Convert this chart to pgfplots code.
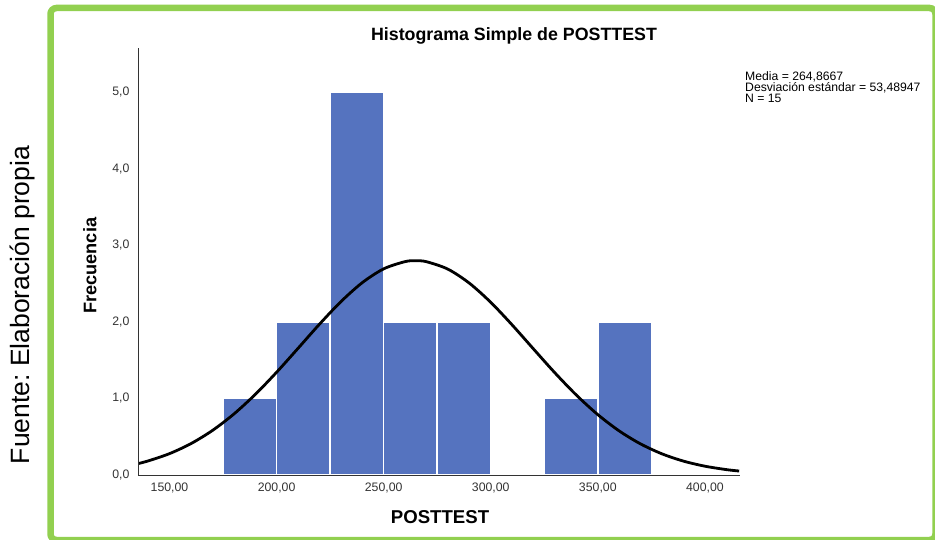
\documentclass[border=0pt]{standalone}
\usepackage{pgfplots}
\pgfplotsset{compat=1.18}
\usepackage{fontspec}
\setmainfont{Liberation Sans}
\definecolor{barblue}{HTML}{5573BF}
\definecolor{framegreen}{HTML}{92D050}
\definecolor{tickgray}{HTML}{333333}
\begin{document}
\frenchspacing
\begin{tikzpicture}[x=1pt,y=1pt]
\useasboundingbox (0,0) rectangle (935,539);
\draw[framegreen, line width=6.5pt, rounded corners=6pt] (50.5,-1) rectangle (935.5,531);
\node[rotate=90, font=\fontsize{26.5}{30}\selectfont, anchor=center] at (22,234) {Fuente: Elaboración propia};
\node[font=\bfseries\fontsize{17.8}{20}\selectfont] at (514,503) {Histograma Simple de POSTTEST};
\node[font=\fontsize{12.2}{11}\selectfont, anchor=north west, align=left, inner sep=0pt] at (745,468) {Media = 264,8667\\Desviación estándar = 53,48947\\N = 15};
\begin{axis}[
  at={(138pt,64pt)}, anchor=south west,
  scale only axis, width=602pt, height=427pt,
  xmin=135.3, xmax=416.4, ymin=0, ymax=5.574,
  axis lines=left,
  axis line style={-, draw=tickgray, line width=0.8pt},
  axis on top=true,
  major tick length=0pt,
  xtick={150,200,250,300,350,400},
  xticklabels={{150,00},{200,00},{250,00},{300,00},{350,00},{400,00}},
  ytick={0,1,2,3,4,5},
  yticklabels={{0,0},{1,0},{2,0},{3,0},{4,0},{5,0}},
  tick label style={font=\fontsize{12.3}{14}\selectfont, text=tickgray},
  xticklabel style={yshift=-4pt},
  yticklabel style={xshift=-5pt},
  xlabel={POSTTEST},
  ylabel={Frecuencia},
  xlabel style={font=\bfseries\fontsize{18.6}{20}\selectfont, at={(axis description cs:0.5017,-0.098)}, anchor=center},
  ylabel style={font=\bfseries\fontsize{18.2}{20}\selectfont, at={(axis description cs:-0.08,0.49)}, anchor=center},
]
\addplot[ybar interval, fill=barblue, draw=white, line width=1.5pt]
  coordinates {(175,1) (200,2) (225,5) (250,2) (275,2) (300,0) (325,1) (350,2) (375,0)};
\addplot[black, line width=2.8pt, smooth, no marks] coordinates {
(135,0.1468) (140,0.1834) (150,0.2788) (160,0.4092) (170,0.5802) (180,0.7944)
(190,1.0502) (200,1.3407) (210,1.6527) (220,1.9674) (230,2.2617) (240,2.5105)
(250,2.6910) (260,2.7854) (264.87,2.797) (270,2.7842) (280,2.6873) (290,2.5047)
(300,2.2544) (310,1.9593) (320,1.6444) (330,1.3327) (340,1.0430) (350,0.7882)
(360,0.5751) (370,0.4053) (380,0.2758) (390,0.1813) (400,0.1150) (410,0.0705)
(416,0.0517)};
\end{axis}
\end{tikzpicture}
\end{document}
